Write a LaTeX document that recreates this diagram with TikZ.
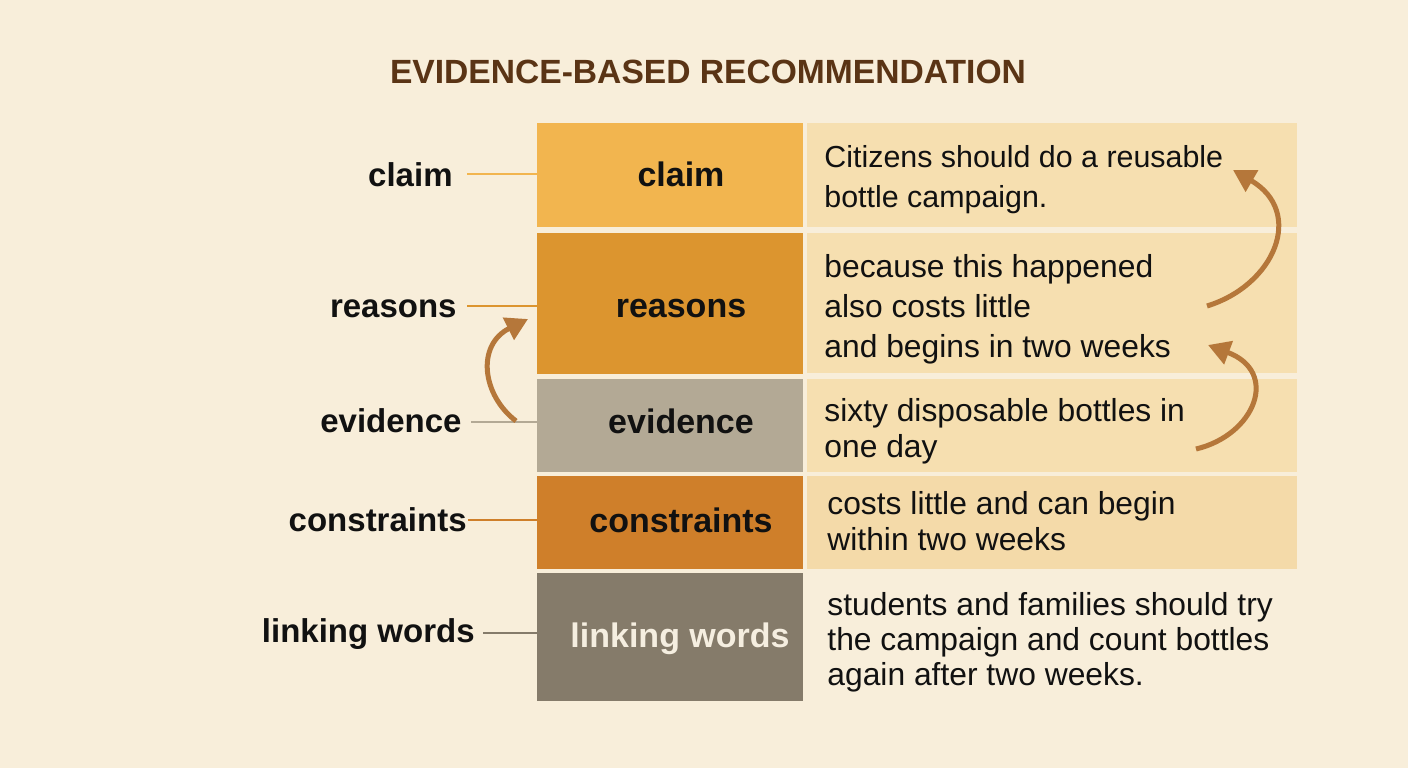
\documentclass[tikz,border=0pt]{standalone}
\usepackage{fontspec}
\setmainfont{Liberation Sans}
\usetikzlibrary{arrows.meta}
\definecolor{bg}{HTML}{F8EEDA}
\definecolor{titlec}{HTML}{5A3415}
\definecolor{claimc}{HTML}{F2B54F}
\definecolor{reasonc}{HTML}{DC952F}
\definecolor{evidc}{HTML}{B3A995}
\definecolor{constc}{HTML}{CF7F2A}
\definecolor{linkc}{HTML}{857B6A}
\definecolor{panelc}{HTML}{F6DFB0}
\definecolor{arrowc}{HTML}{B5773A}
\definecolor{txt}{HTML}{111111}
\definecolor{linktxt}{HTML}{F5EEE0}
\tikzset{
  box/.style={draw=none, inner sep=0pt, minimum width=133pt},
  panel/.style={draw=none, fill=panelc, inner sep=0pt, minimum width=245pt},
  sidelabel/.style={anchor=base east, inner sep=0pt, text=txt, font=\fontsize{16.5}{20}\selectfont\bfseries},
  boxlabel/.style={anchor=base, inner sep=0pt, text=txt, font=\fontsize{17}{20}\selectfont\bfseries},
  ptext/.style={anchor=base west, inner sep=0pt, align=left, text=txt},
  tick/.style={line width=1pt},
  flow/.style={arrowc, line width=2.5pt, -{Triangle[length=11pt,width=12pt]}}
}
\begin{document}
\begin{tikzpicture}[x=0.5pt,y=-0.5pt]
\fill[bg] (0,0) rectangle (1408,768);
\useasboundingbox (0,0) rectangle (1408,768);

% title
\node[anchor=base, inner sep=0pt, text=titlec, font=\fontsize{16.8}{20}\selectfont\bfseries] (title) at (708,83) {EVIDENCE-BASED RECOMMENDATION};

% left boxes
\node[box, fill=claimc, minimum height=52pt] (bclaim) at (670,175) {};
\node[box, fill=reasonc, minimum height=70.5pt] (breason) at (670,303.5) {};
\node[box, fill=evidc, minimum height=46.5pt] (bevid) at (670,425) {};
\node[box, fill=constc, minimum height=46.5pt] (bconst) at (670,522.5) {};
\node[box, fill=linkc, minimum height=64pt] (blink) at (670,637) {};

% right panels
\node[panel, minimum height=52pt] (pclaim) at (1052,175) {};
\node[panel, minimum height=70pt] (preason) at (1052,303) {};
\node[panel, minimum height=46.5pt] (pevid) at (1052,425) {};
\node[panel, minimum height=46.5pt, fill=panelc!95!constc] (pconst) at (1052,522.5) {};

% box labels
\node[boxlabel] (tclaim) at (681,186) {claim};
\node[boxlabel] (treason) at (681,317) {reasons};
\node[boxlabel] (tevid) at (681,433) {evidence};
\node[boxlabel] (tconst) at (681,532) {constraints};
\node[boxlabel, text=linktxt] (tlink) at (680,647) {linking words};

% side labels
\node[sidelabel] (lclaim) at (453,186) {claim};
\node[sidelabel] (lreason) at (457,317) {reasons};
\node[sidelabel] (levid) at (462,432) {evidence};
\node[sidelabel] (lconst) at (467,531) {constraints};
\node[sidelabel] (llink) at (475,642) {linking words};

% ticks
\coordinate (cclaim) at (467,174);
\coordinate (creason) at (467,306);
\coordinate (cevid) at (471,422);
\coordinate (cconst) at (468,520);
\coordinate (clink) at (483,633);
\draw[tick, draw=claimc] (cclaim) -- (cclaim -| bclaim.west);
\draw[tick, draw=reasonc] (creason) -- (creason -| breason.west);
\draw[tick, draw=evidc] (cevid) -- (cevid -| bevid.west);
\draw[tick, draw=constc] (cconst) -- (cconst -| bconst.west);
\draw[tick, draw=linkc] (clink) -- (clink -| blink.west);

% panel texts (base anchor = baseline of last line)
\node[ptext, font=\fontsize{15.2}{19.75}\selectfont] (xclaim) at (824,207) {Citizens should do a reusable\\bottle campaign.};
\node[ptext, font=\fontsize{15.9}{20}\selectfont] (xreason) at (824,357) {because this happened\\also costs little\\and begins in two weeks};
\node[ptext, font=\fontsize{15.9}{17.6}\selectfont] (xevid) at (824,457) {sixty disposable bottles in\\one day};
\node[ptext, font=\fontsize{15.9}{17.8}\selectfont] (xconst) at (827,550) {costs little and can begin\\within two weeks};
\node[ptext, font=\fontsize{15.9}{17.4}\selectfont] (xlink) at (827,685) {students and families should try\\the campaign and count bottles\\again after two weeks.};

% arrows
\coordinate (a1s) at (516,421);
\coordinate (a1e) at (528,319);
\draw[flow] (a1s) .. controls (482,395) and (476,345) .. (a1e);
\coordinate (a2s) at (1207,306);
\coordinate (a2e) at (1233,170);
\draw[flow] (a2s) .. controls (1275,285) and (1305,212) .. (a2e);
\coordinate (a3s) at (1196,449);
\coordinate (a3e) at (1208,345);
\draw[flow] (a3s) .. controls (1255,435) and (1280,372) .. (a3e);
\end{tikzpicture}
\end{document}
